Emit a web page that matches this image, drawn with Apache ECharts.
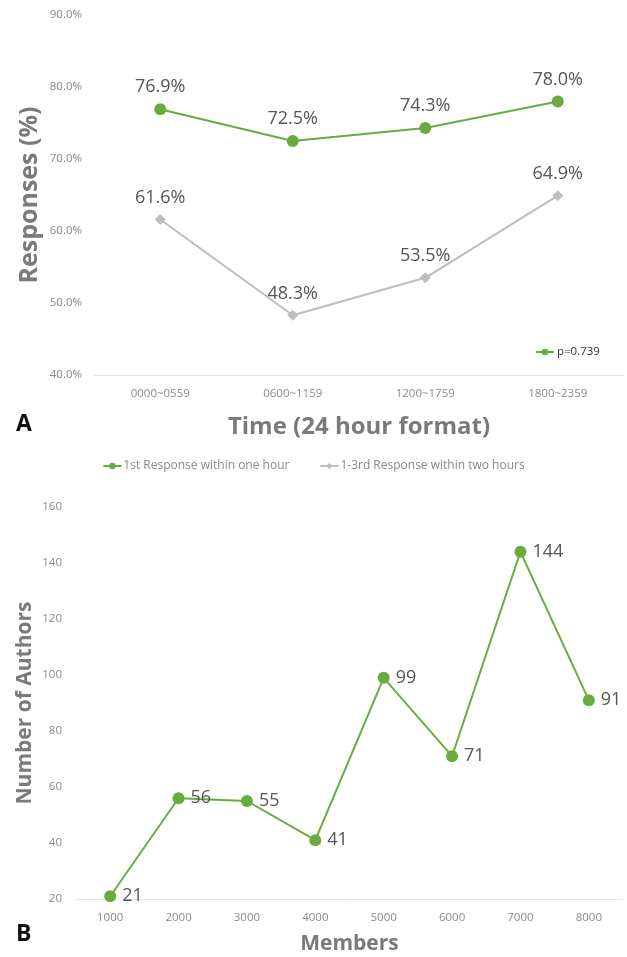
<!DOCTYPE html>
<html>
<head>
<meta charset="utf-8">
<script src="https://cdn.jsdelivr.net/npm/echarts@6/dist/echarts.min.js"></script>
<style>html,body{margin:0;padding:0;background:#fff}#c{width:627px;height:957px}</style>
</head>
<body>
<div id="c"></div>
<script>
const timeCats = ['0000~0559', '0600~1159', '1200~1759', '1800~2359'];
const firstResp = [76.9, 72.5, 74.3, 78.0];
const thirdResp = [61.6, 48.3, 53.5, 64.9];
const memberCats = ['1000', '2000', '3000', '4000', '5000', '6000', '7000', '8000'];
const authors = [21, 56, 55, 41, 99, 71, 144, 91];

const GREEN = '#6aab3e';
const GRAY = '#bdbdbd';
const FONT = 'Open Sans';

const chart = echarts.init(document.getElementById('c'));
chart.setOption({
  animation: false,
  textStyle: { fontFamily: FONT },
  grid: [
    { left: 94, top: 15, width: 530, height: 360 },
    { left: 76, top: 507, width: 547, height: 392 }
  ],
  xAxis: [
    {
      gridIndex: 0, type: 'category', data: timeCats, boundaryGap: true,
      axisLine: { lineStyle: { color: '#e6e6e6' } }, axisTick: { show: false },
      axisLabel: { color: '#8a8a8a', fontSize: 11.5, margin: 13 },
      name: 'Time (24 hour format)', nameLocation: 'middle', nameGap: 40,
      nameTextStyle: { color: '#7a7a7a', fontSize: 24, fontWeight: 'bold' }
    },
    {
      gridIndex: 1, type: 'category', data: memberCats, boundaryGap: true,
      axisLine: { lineStyle: { color: '#e6e6e6' } }, axisTick: { show: false },
      axisLabel: { color: '#8a8a8a', fontSize: 11.5, margin: 13 },
      name: 'Members', nameLocation: 'middle', nameGap: 35,
      nameTextStyle: { color: '#7a7a7a', fontSize: 21, fontWeight: 'bold' }
    }
  ],
  yAxis: [
    {
      gridIndex: 0, type: 'value', min: 40, max: 90, interval: 10,
      splitLine: { show: false }, axisLine: { show: false }, axisTick: { show: false },
      axisLabel: { color: '#8a8a8a', fontSize: 11.5, margin: 12, formatter: v => v.toFixed(1) + '%' },
      name: 'Responses (%)', nameLocation: 'middle', nameGap: 52, nameMoveOverlap: false,
      nameTextStyle: { color: '#7a7a7a', fontSize: 25, fontWeight: 'bold' }
    },
    {
      gridIndex: 1, type: 'value', min: 20, max: 160, interval: 20,
      splitLine: { show: false }, axisLine: { show: false }, axisTick: { show: false },
      axisLabel: { color: '#8a8a8a', fontSize: 11.5, margin: 14 },
      name: 'Number of Authors', nameLocation: 'middle', nameGap: 40, nameMoveOverlap: false,
      nameTextStyle: { color: '#7a7a7a', fontSize: 21, fontWeight: 'bold' }
    }
  ],
  legend: [
    {
      data: ['1st Response within one hour', '1-3rd Response within two hours'],
      top: 455, left: 'center', itemWidth: 18, itemHeight: 8, itemGap: 30,
      textStyle: { color: '#8a8a8a', fontSize: 12, padding: [0, 0, 0, -3] }
    },
    {
      data: ['p=0.739'], left: 530, top: 341, itemWidth: 18, itemHeight: 8,
      textStyle: { color: '#333', fontSize: 11.5, padding: [0, 0, 0, -2] }
    }
  ],
  series: [
    {
      name: '1st Response within one hour', type: 'line', xAxisIndex: 0, yAxisIndex: 0,
      data: firstResp, symbol: 'circle', symbolSize: 12,
      itemStyle: { color: GREEN }, lineStyle: { color: GREEN, width: 2 },
      label: { show: true, position: 'top', distance: 7, fontSize: 18, color: '#555', formatter: p => p.value.toFixed(1) + '%' }
    },
    {
      name: '1-3rd Response within two hours', type: 'line', xAxisIndex: 0, yAxisIndex: 0,
      data: thirdResp, symbol: 'diamond', symbolSize: 11,
      itemStyle: { color: GRAY }, lineStyle: { color: GRAY, width: 2 },
      label: { show: true, position: 'top', distance: 7, fontSize: 18, color: '#555', formatter: p => p.value.toFixed(1) + '%' }
    },
    {
      name: 'p=0.739', type: 'line', xAxisIndex: 0, yAxisIndex: 0, data: [],
      symbol: 'circle', symbolSize: 10, itemStyle: { color: GREEN }, lineStyle: { color: GREEN, width: 2 }
    },
    {
      name: 'authors', type: 'line', xAxisIndex: 1, yAxisIndex: 1,
      data: authors, symbol: 'circle', symbolSize: 12,
      itemStyle: { color: GREEN }, lineStyle: { color: GREEN, width: 2 },
      label: { show: true, position: 'right', distance: 6, fontSize: 18, color: '#555' }
    }
  ],
  graphic: [
    { type: 'text', left: 16, top: 413, style: { text: 'A', fontSize: 23, fontWeight: 'bold', fill: '#111', fontFamily: FONT } },
    { type: 'text', left: 16, top: 923, style: { text: 'B', fontSize: 23, fontWeight: 'bold', fill: '#111', fontFamily: FONT } }
  ]
});
</script>
</body>
</html>
